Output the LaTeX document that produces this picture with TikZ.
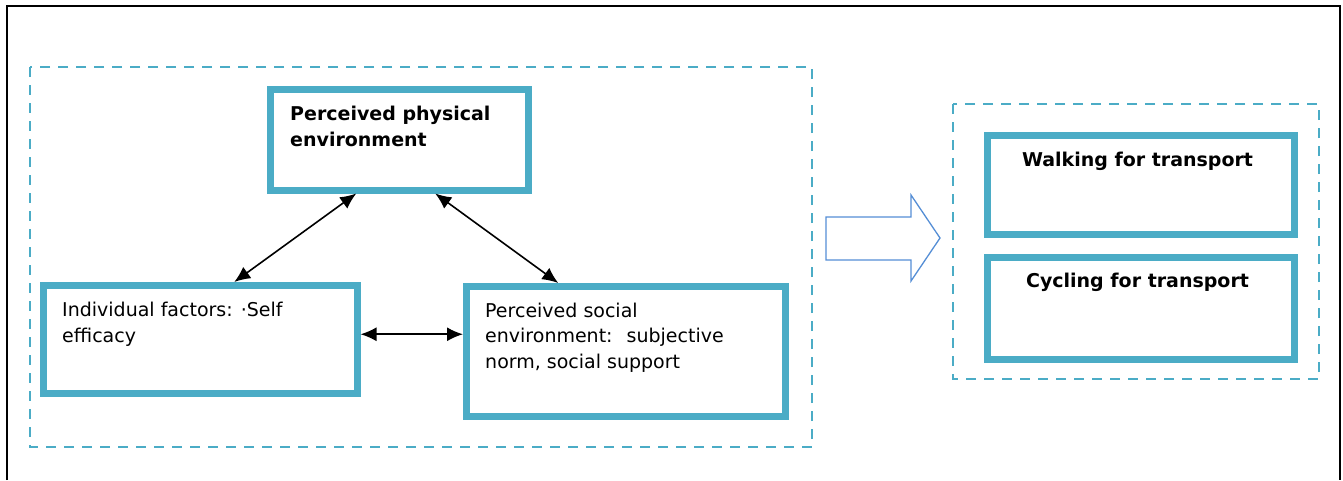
\documentclass[tikz,border=0pt]{standalone}
\usepackage{fontspec}
\setmainfont{DejaVu Sans}
\usetikzlibrary{arrows.meta,calc}
\definecolor{teal}{RGB}{75,172,198}
\definecolor{flowblue}{RGB}{85,142,213}
\tikzset{
  box/.style={draw=teal, line width=6.5pt, rectangle, minimum width=#1, inner sep=0pt, anchor=north west},
  grp/.style={draw=teal, line width=2.5pt, dash pattern=on 10pt off 8pt},
  txt/.style={inner sep=0pt, align=left, font=\fontsize{19}{25.5}\selectfont},
  btxt/.style={inner sep=0pt, align=center, font=\fontsize{19}{25.5}\selectfont\bfseries},
  dbl/.style={{Latex[length=16pt,width=14pt]}-{Latex[length=16pt,width=14pt]}, line width=1.6pt, black},
}
\begin{document}
\begin{tikzpicture}[x=1pt,y=-1pt]
\useasboundingbox (0,0) rectangle (1343,480);
% outer frame (bottom edge lies below the picture)
\draw[line width=2.5pt, black] (7,480) -- (7,6) -- (1340,6) -- (1340,480);
% group frames
\draw[grp] (30,67) rectangle (812,447);
\draw[grp] (953,104) rectangle (1319,379);
% boxes
\node[box=258pt, minimum height=101pt] (phys) at (267,86) {};
\node[box=314pt, minimum height=108pt] (indiv) at (40,282) {};
\node[box=319pt, minimum height=130pt] (social) at (463,283) {};
\node[box=307pt, minimum height=99pt] (walk) at (984,132) {};
\node[box=307pt, minimum height=102pt] (cycle) at (984,254) {};
% texts (base anchor = baseline of the last line)
\node[btxt, align=left, anchor=base west] (physt) at (290,146) {Perceived physical\\environment};
\node[txt, anchor=base west] (indivt) at (62,342) {Individual factors: ·Self\\efficacy};
\node[txt, anchor=base west] (socialt) at (485,368) {Perceived social\\environment:~ subjective\\norm, social support};
\node[btxt, anchor=base] (walkt) at (1137.5,166) {Walking for transport};
\node[btxt, anchor=base] (cyclet) at (1137.5,287) {Cycling for transport};
% connectors
\draw[dbl] ([xshift=-43pt]phys.south) -- ([xshift=34pt]indiv.north);
\draw[dbl] ([xshift=36pt]phys.south) -- ([xshift=-67.5pt]social.north);
\draw[dbl] ([yshift=5pt]indiv.east) -- ([yshift=5pt]indiv.east -| social.west);
% block arrow
\draw[flowblue, line width=1.3pt, line join=miter]
  (826,217) -- (911,217) -- (911,195) -- (940,238) -- (911,281) -- (911,260) -- (826,260) -- cycle;
\end{tikzpicture}
\end{document}
